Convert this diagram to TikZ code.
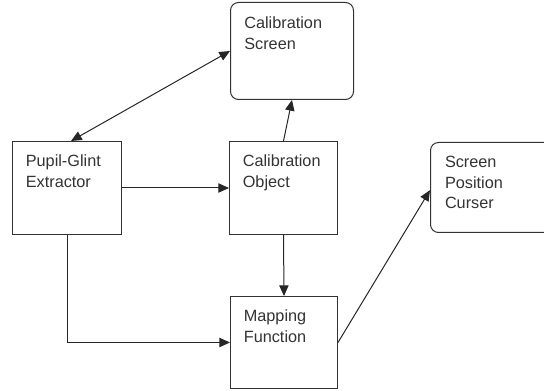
\documentclass[tikz,border=0pt]{standalone}
\usepackage{fontspec}
\setmainfont{Liberation Sans}
\usepackage{tikz}
\usetikzlibrary{arrows.meta}

\tikzset{
    box/.style={draw=black!80, line width=0.75pt, anchor=north west, inner xsep=10pt, inner ysep=0pt,
        align=left, text=black!80, text height=18.75pt, font=\fontsize{12.2}{15.4}\selectfont},
    roundbox/.style={box, rounded corners=6pt},
    link/.style={draw=black!85, line width=0.75pt},
    >={Triangle[length=8pt,width=7pt]},
}

\begin{document}
\begin{tikzpicture}[x=0.75pt, y=-0.75pt]
        \useasboundingbox (0,0) rectangle (544,391);
        \clip (0,0) rectangle (544,391);

        % blocks, placed by their top left corner (pixels)
        \node[roundbox, text width=71.5pt, inner xsep=10.375pt, text height=19.5pt, text depth=53.25pt] (screen) at (230,2) {Calibration\\Screen};
        \node[box, text width=61.75pt, text depth=51pt] (extractor) at (12,141) {Pupil-Glint\\Extractor};
        \node[box, text width=61pt, text depth=51pt] (object) at (229,141) {Calibration\\Object};
        \node[box, text width=60.25pt, text depth=50.25pt] (mapping) at (230,296) {Mapping\\Function};
        \node[roundbox, text width=72pt, inner xsep=10.875pt, text depth=48.75pt] (cursor) at (430,142) {Screen\\Position\\Curser};

        % connections
        \draw[link, <->] ([xshift=3pt]extractor.north) -- (screen.west);
        \draw[link, ->] (object.north) -- (screen.south);
        \draw[link, ->] (extractor.east) -- (object.west);
        \draw[link, ->] (object.south) -- (mapping.north);
        \draw[link, ->] (extractor.south) |- (mapping.west);
        \draw[link, ->] (mapping.east) -- ([yshift=-2pt]cursor.west);
\end{tikzpicture}
\end{document}
